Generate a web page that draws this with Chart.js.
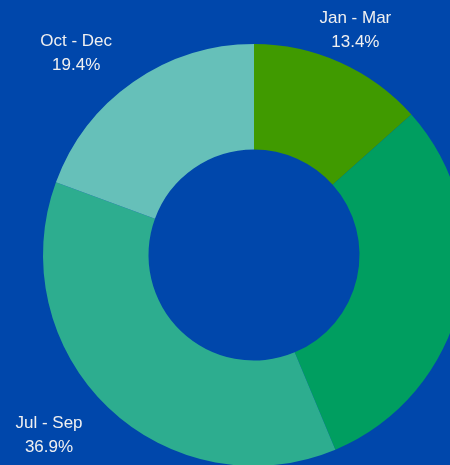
<!DOCTYPE html>
<html>
<head>
<meta charset="utf-8">
<script src="https://cdn.jsdelivr.net/npm/chart.js@4/dist/chart.umd.min.js"></script>
<style>
  html, body { margin: 0; padding: 0; background: #0047ab; overflow: hidden; }
  #wrap { position: relative; width: 450px; height: 465px; overflow: hidden; }
  #chart { position: absolute; left: 0; top: 0; }
</style>
</head>
<body>
<div id="wrap"><canvas id="chart" width="600" height="600"></canvas></div>
<script>
const quarters = ['Jan - Mar', 'Apr - Jun', 'Jul - Sep', 'Oct - Dec'];
const shares = [13.4, 30.3, 36.9, 19.4];
const sliceColors = ['#409a00', '#009e60', '#2dad8f', '#66c0b9'];

// Étiquettes à l'extérieur de l'anneau (nom + pourcentage)
const outLabels = {
    id: 'outLabels',
    afterDatasetsDraw(chart) {
        const ctx = chart.ctx;
        const meta = chart.getDatasetMeta(0);
        const data = chart.data.datasets[0].data;
        const total = data.reduce((a, b) => a + b, 0);
        ctx.save();
        ctx.font = '17px "Liberation Sans", Arial, sans-serif';
        ctx.fillStyle = '#f0f0f0';
        ctx.textBaseline = 'middle';
        meta.data.forEach((arc, i) => {
            const p = arc.getProps(['x', 'y', 'startAngle', 'endAngle', 'outerRadius'], true);
            const mid = (p.startAngle + p.endAngle) / 2;
            const r = p.outerRadius + 37;
            const px = p.x + Math.cos(mid) * r;
            const py = p.y + Math.sin(mid) * r + 1.5;
            const lines = [chart.data.labels[i], (data[i] / total * 100).toFixed(1) + '%'];
            const w = Math.max(...lines.map(l => ctx.measureText(l).width));
            let cx = px;
            if (Math.cos(mid) > 0.5) cx = px + w / 2;
            else if (Math.cos(mid) < -0.5) cx = px - w / 2;
            ctx.textAlign = 'center';
            ctx.fillText(lines[0], cx, py - 12);
            ctx.fillText(lines[1], cx, py + 12);
        });
        ctx.restore();
    }
};

new Chart(document.getElementById('chart'), {
    type: 'doughnut',
    data: {
        labels: quarters,
        datasets: [{
            data: shares,
            backgroundColor: sliceColors,
            borderWidth: 0,
            hoverOffset: 0
        }]
    },
    options: {
        responsive: false,
        animation: false,
        cutout: '50%',
        layout: { padding: { left: 43, top: 44, right: 135, bottom: 134 } },
        plugins: {
            legend: { display: false },
            tooltip: { enabled: false }
        }
    },
    plugins: [outLabels]
});
</script>
</body>
</html>
